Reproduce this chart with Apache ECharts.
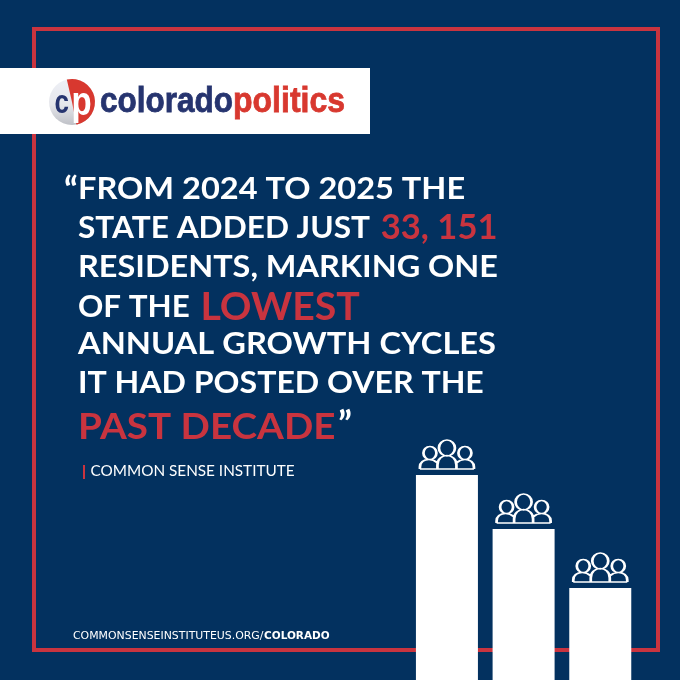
<!DOCTYPE html>
<html><head><meta charset="utf-8">
<style>html,body{margin:0;padding:0;background:#03315f}#c{width:680px;height:680px}</style>
<script src="https://cdn.jsdelivr.net/npm/echarts@6/dist/echarts.min.js"></script>
</head><body><div id="c"></div>
<script>
const categories = ['A','B','C'];
const barValues = [205, 151, 92];
const quoteLines = [
  'FROM 2024 TO 2025 THE',
  'STATE ADDED JUST {r|33, 151}',
  'RESIDENTS, MARKING ONE',
  'OF THE {r|LOWEST}',
  'ANNUAL GROWTH CYCLES',
  'IT HAD POSTED OVER THE',
  '{r|PAST DECADE}'
];
const lineY = [189, 228, 267, 307, 344, 383, 427];
const lineStretch = [1.05, 1.02, 1.046, 1.012, 1.053, 1.035, 1.05];
const redSize = [34, 33.9, 34, 38.8, 34, 34, 36.8];
const sourceText = 'COMMON SENSE INSTITUTE';
const urlA = 'COMMONSENSEINSTITUTEUS.ORG/';
const urlB = 'COLORADO';
const NAVY='#03315f', RED='#c9343f', WHITE='#ffffff';
const people = 'path://M27 0A8 8 0 1 1 26.99 0ZM10 6.5A6.5 6.5 0 1 1 9.99 6.5ZM45 6.5A6.5 6.5 0 1 1 44.99 6.5ZM0 29H54M17.5 29V25C17.5 19 22 15.5 27 15.5C32 15.5 36.5 19 36.5 25V29M0 29V27C0 22 4 19.5 9 19.5C12.5 19.5 15 20.5 17.5 23M54 29V27C54 22 50 19.5 45 19.5C41.5 19.5 39 20.5 36.5 23';

const chart = echarts.init(document.getElementById('c'));
const txt = (x,y,text,font,fill,extra={},el={})=>Object.assign({type:'text',z:5,x,y,style:Object.assign({x:0,y:0,text,font,fill,verticalAlign:'middle',align:'left'},extra)},el);
const qFont='700 31px Lato';
const logoStroke=(c)=>({stroke:c,lineWidth:0.7});
const graphic=[
  {type:'rect',z:1,shape:{x:34,y:29,width:624,height:621},style:{fill:'none',stroke:RED,lineWidth:4}},
  {type:'rect',z:10,shape:{x:0,y:68,width:370,height:66},style:{fill:WHITE}},
  {type:'circle',z:11,shape:{cx:72,cy:102,r:23},style:{fill:{type:'linear',x:0,y:0,x2:0,y2:1,colorStops:[{offset:0,color:'#eef0f6'},{offset:0.55,color:'#e6e7ec'},{offset:1,color:'#bfc1c7'}]}}},
  {type:'sector',z:12,shape:{cx:72,cy:102,r:23,r0:0,startAngle:-103*Math.PI/180,endAngle:79*Math.PI/180},style:{fill:'#d8382f'}},
  txt(54.5,104,'c','700 26px "Liberation Sans"','#26346f',{},{z:13,scaleY:1.3}),
  txt(71.5,104,'p','700 33px "Liberation Sans"',WHITE,{},{z:13,scaleY:1.25}),
  txt(100,102,'colorado','700 31.5px "Liberation Sans"','#26346f',logoStroke('#26346f'),{z:13,scaleY:1.12}),
  txt(233,102,'politics','700 32px "Liberation Sans"','#d8382f',logoStroke('#d8382f'),{z:13,scaleY:1.12}),
  txt(64,191,'\u201C','700 36px Lato',WHITE),
  txt(338,425,'\u201D','700 36px Lato',WHITE),
  {type:'rect',z:5,shape:{x:83,y:465,width:2,height:14},style:{fill:RED}},
  txt(90.5,471,sourceText,'400 15.3px Lato',WHITE),
  txt(73,636,urlA,'400 10px "DejaVu Sans"',WHITE,{},{scaleX:1.09}),
  txt(264,636,urlB,'700 10px "DejaVu Sans"',WHITE,{},{scaleX:1.05})
];
quoteLines.forEach((t,i)=>{
  graphic.push(txt(78,lineY[i],t,qFont,WHITE,{rich:{r:{font:'700 '+redSize[i]+'px Lato',fill:RED,padding:[0,0,0,i===6?0:3]}}},{scaleX:lineStretch[i]}));
});
chart.setOption({
  animation:false,
  backgroundColor:NAVY,
  grid:{left:408.6,width:230,top:0,height:680},
  xAxis:{type:'category',data:categories,show:false},
  yAxis:{type:'value',min:0,max:680,show:false},
  graphic,
  series:[
    {type:'bar',data:barValues,barWidth:62,z:2,itemStyle:{color:WHITE}},
    {type:'scatter',data:barValues,symbol:people,symbolSize:[54,29],symbolOffset:[0,-20.5],z:3,
     itemStyle:{color:'none',borderColor:WHITE,borderWidth:2,opacity:1}}
  ]
});
</script></body></html>
